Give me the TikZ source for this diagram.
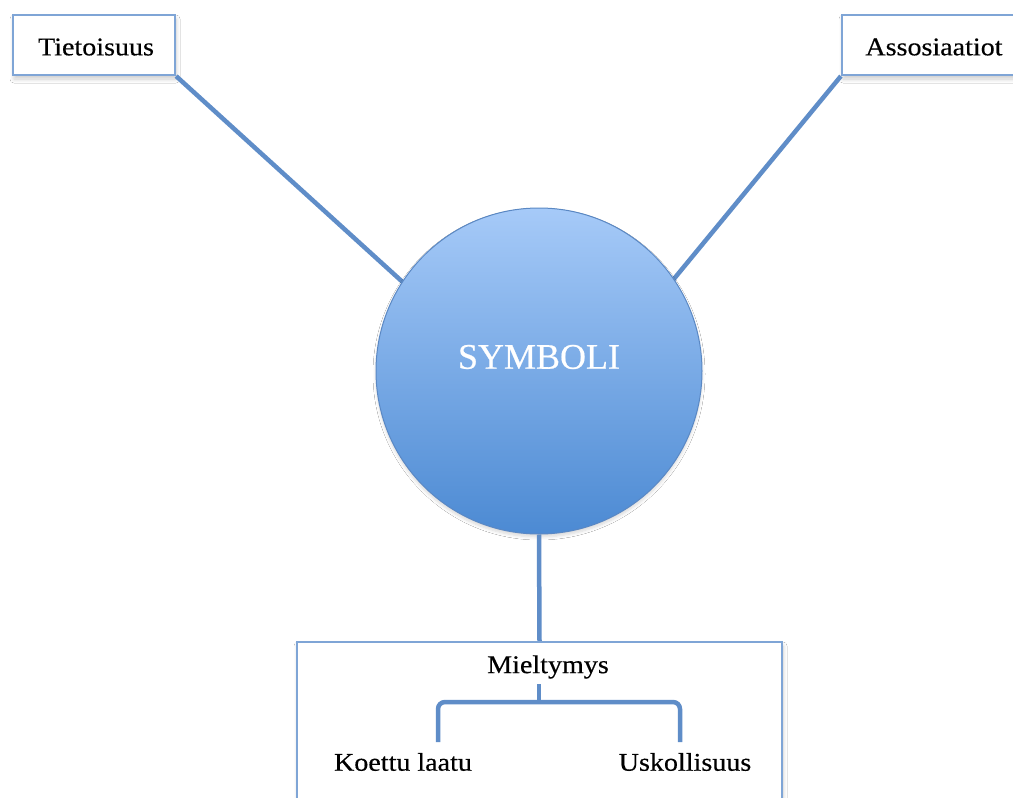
\documentclass[tikz,border=0pt]{standalone}
\usepackage{fontspec}
\setmainfont{Liberation Serif}
\newfontfamily\lblfont[FakeStretch=1.1,FakeBold=0.4]{Liberation Serif}
\newfontfamily\symfont[FakeBold=0.5]{Liberation Serif}
\usetikzlibrary{shadows.blur}
\definecolor{conncol}{HTML}{5F8DC8}
\definecolor{boxcol}{HTML}{7FA5D6}
\definecolor{circtop}{HTML}{A6CAF8}
\definecolor{circbot}{HTML}{4C8AD3}
\definecolor{circline}{HTML}{5A88C4}
\tikzset{
  conn/.style={draw=conncol, line width=4.5pt},
  lbox/.style={draw=boxcol, line width=2.2pt, fill=white, rectangle, inner sep=0pt,
    blur shadow={shadow xshift=1pt, shadow yshift=-4pt, shadow blur steps=8, shadow blur radius=4pt, shadow opacity=20}},
  lbl/.style={font=\lblfont\fontsize{25.5}{30}\selectfont, inner sep=0pt, text=black},
}
\begin{document}
\begin{tikzpicture}[x=1pt,y=-1pt]
\useasboundingbox (0,0) rectangle (1013,798);
\fill[white] (0,0) rectangle (1013,798);
% boxes
\node[lbox, minimum width=162pt, minimum height=60pt] (tbox) at (94,45) {};
\node[lbox, minimum width=200pt, minimum height=60pt] (abox) at (942,45) {};
\node[lbox, minimum width=485pt, minimum height=190pt] (mbox) at (539.5,737) {};
% labels
\node[lbl] (t) at (96,47) {Tietoisuus};
\node[lbl] (a) at (934,47) {Assosiaatiot};
\node[lbl] (mt) at (548,667) {Mieltymys};
\node[lbl] (k) at (403,762) {Koettu laatu};
\node[lbl] (u) at (685,762) {Uskollisuus};
% connectors behind circle
\coordinate (lin) at (440,316);
\coordinate (rin) at (650,308);
\draw[conn] (tbox.south east) -- (lin);
\draw[conn] (abox.south west) -- (rin);
% circle
\node[circle, minimum size=326pt, inner sep=0pt, top color=circtop, bottom color=circbot,
  draw=circline, line width=1pt,
  blur shadow={shadow xshift=0pt, shadow yshift=-3pt, shadow blur steps=6, shadow blur radius=3pt, shadow opacity=15}]
  (c) at (539,371) {};
\node[font=\symfont\fontsize{36}{40}\selectfont, text=white, inner sep=0pt] (s) at (c.center) [yshift=14pt] {SYMBOLI};
\draw[conn] (c.south) -- (mbox.north);
% bracket
\coordinate (bt) at (539,684);
\coordinate (bm) at (539,702);
\coordinate (kl) at (438,742);
\coordinate (ur) at (680,742);
\draw[conn] (bt) -- (bm);
\draw[conn, rounded corners=7pt] (kl) -- (kl |- bm) -- (ur |- bm) -- (ur);
\end{tikzpicture}
\end{document}
